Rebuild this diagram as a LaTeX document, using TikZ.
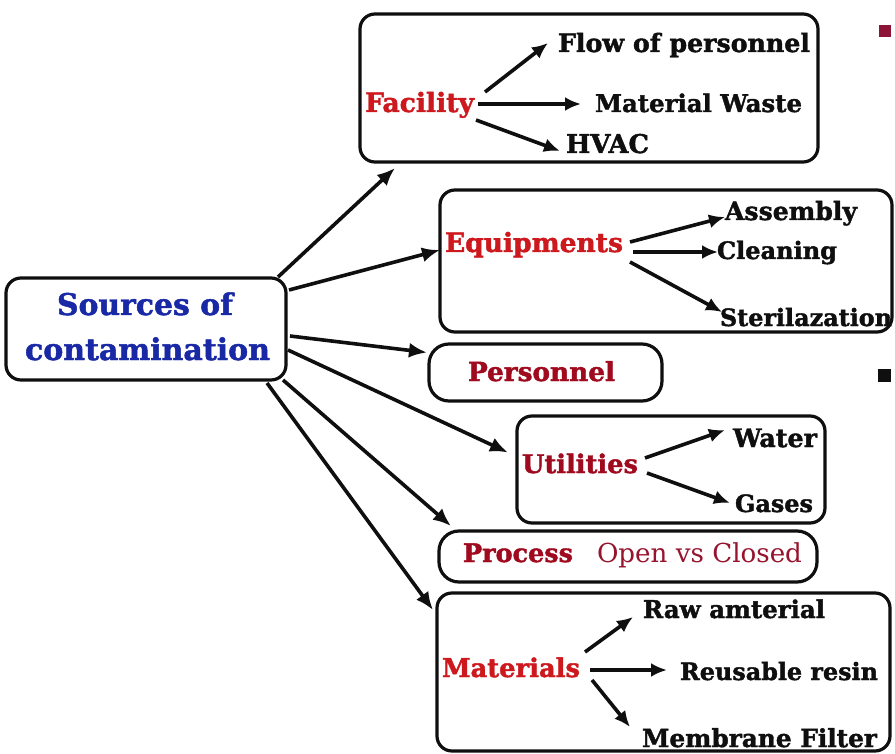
\documentclass[tikz,border=0pt]{standalone}
\usepackage{fontspec}
\usepackage{graphicx}
\setmainfont{DejaVu Serif}[BoldFeatures={FakeBold=1.6}]
\usetikzlibrary{arrows.meta,calc}
\definecolor{fred}{RGB}{205,25,30}
\definecolor{dred}{RGB}{160,10,30}
\definecolor{ored}{RGB}{150,20,45}
\definecolor{sblue}{RGB}{25,40,165}
\definecolor{ink}{RGB}{15,15,15}
\definecolor{bull}{RGB}{140,20,55}
\newcommand\tw[2]{\resizebox{#1pt}{!}{#2}}
\begin{document}
\begin{tikzpicture}[x=1pt,y=-1pt,
 box/.style={draw=ink, line width=3.2pt, rounded corners=15pt, inner sep=0pt, outer sep=0pt},
 pill/.style={box, rounded corners=20pt},
 lbl/.style={inner sep=0pt, outer sep=0pt, anchor=base west, text=ink,
   font=\fontsize{24}{28}\selectfont\bfseries},
 arr/.style={draw=ink, line width=3.6pt, -{Latex[length=18pt,width=15pt]}},
 sarr/.style={draw=ink, line width=3.6pt, -{Latex[length=16pt,width=14pt]}}]
\useasboundingbox (0,0) rectangle (895,754);
\fill[white] (0,0) rectangle (895,754);
% boxes
\node[box, minimum width=280pt, minimum height=102pt] (src) at (146,329) {};
\node[box, minimum width=458pt, minimum height=148pt] (fac) at (589,88) {};
\node[box, minimum width=452pt, minimum height=142pt] (equ) at (666,261) {};
\node[pill, minimum width=233pt, minimum height=57pt] (per) at (545.5,372.5) {};
\node[box, minimum width=308pt, minimum height=107pt] (uti) at (671,469.5) {};
\node[pill, minimum width=378pt, minimum height=51pt] (pro) at (628,556.5) {};
\node[box, minimum width=453pt, minimum height=158pt] (mat) at (663.5,672) {};
% bullets
\node[fill=bull, minimum size=12pt, inner sep=0pt] (b1) at (885,31) {};
\node[fill=ink, minimum size=13pt, inner sep=0pt] (b2) at (884,375) {};
% source text
\node[lbl, text=sblue] (srcA) at (57,315) {\tw{176}{Sources of}};
\node[lbl, text=sblue] (srcB) at (25,360) {\tw{245}{contamination}};
% facility
\node[lbl, text=fred] (facT) at (365,112) {\tw{109}{Facility}};
\node[lbl] (flow) at (558,52) {\tw{252}{Flow of personnel}};
\node[lbl] (mw) at (595,112) {\tw{207}{Material Waste}};
\node[lbl] (hvac) at (566,153) {\tw{83}{HVAC}};
% equipments
\node[lbl, text=fred] (equT) at (445,252) {\tw{178}{Equipments}};
\node[lbl] (asm) at (725,220) {\tw{132}{Assembly}};
\node[lbl] (cln) at (717,259) {\tw{120}{Cleaning}};
\node[lbl] (ster) at (720,326) {\tw{172}{Sterilazation}};
% personnel
\node[lbl, text=dred] (perT) at (468,381) {\tw{147}{Personnel}};
% utilities
\node[lbl, text=dred] (utiT) at (522,473) {\tw{116}{Utilities}};
\node[lbl] (wat) at (733,447) {\tw{84}{Water}};
\node[lbl] (gas) at (735,512) {\tw{78}{Gases}};
% process
\node[lbl, text=dred] (proT) at (463,562) {\tw{110}{Process}};
\node[lbl, text=ored, font=\fontsize{24}{28}\selectfont] (ovc) at (597,562) {\tw{205}{Open vs Closed}};
% materials
\node[lbl, text=fred] (matT) at (442,677) {\tw{138}{Materials}};
\node[lbl] (raw) at (643,618) {\tw{182}{Raw amterial}};
\node[lbl] (reu) at (680,680) {\tw{198}{Reusable resin}};
\node[lbl] (mem) at (642,747) {\tw{235}{Membrane Filter}};
% main arrows
\draw[arr] ($(src.north east)+(-8,-1)$) -- ($(fac.south west)+(35,6)$);
\draw[arr] ($(src.north east)+(3,12)$) -- ($(equ.west)+(0,-11)$);
\draw[arr] ($(src.east)+(4,7)$) -- ($(per.west)+(-2,-20)$);
\draw[arr] ($(src.east)+(2,21)$) -- ($(uti.west)+(-9,-17)$);
\draw[arr] ($(src.south east)+(-3,0)$) -- ($(pro.north west)+(12,-5)$);
\draw[arr] ($(src.south east)+(-19,3)$) -- ($(mat.north west)+(-4,17)$);
% facility arrows
\draw[sarr] ($(facT.base east)+(11,-20)$) -- ($(flow.base west)+(-10,-9)$);
\draw[sarr] ($(facT.base east)+(4,-8)$) -- ($(mw.base west)+(-14,-8)$);
\draw[sarr] ($(facT.base east)+(2,8)$) -- ($(hvac.base west)+(-6,-2)$);
% equipment arrows
\draw[sarr] ($(equT.base east)+(7,-10)$) -- ($(asm.base west)+(0,-3)$);
\draw[sarr] ($(equT.base east)+(10,0)$) -- ($(cln.base west)+(1,-7)$);
\draw[sarr] ($(equT.base east)+(7,10)$) -- ($(ster.base west)+(2,-14)$);
% utilities arrows
\draw[sarr] ($(utiT.base east)+(7,-15)$) -- ($(wat.base west)+(-8,-17)$);
\draw[sarr] ($(utiT.base east)+(9,0)$) -- ($(gas.base west)+(-5,-9)$);
% materials arrows
\draw[sarr] ($(matT.base east)+(5,-25)$) -- ($(raw.base west)+(-10,-1)$);
\draw[sarr] ($(matT.base east)+(10,-7)$) -- ($(reu.base west)+(-13,-10)$);
\draw[sarr] ($(matT.base east)+(12,3)$) -- ($(mem.base west)+(-12,-20)$);
\end{tikzpicture}
\end{document}
